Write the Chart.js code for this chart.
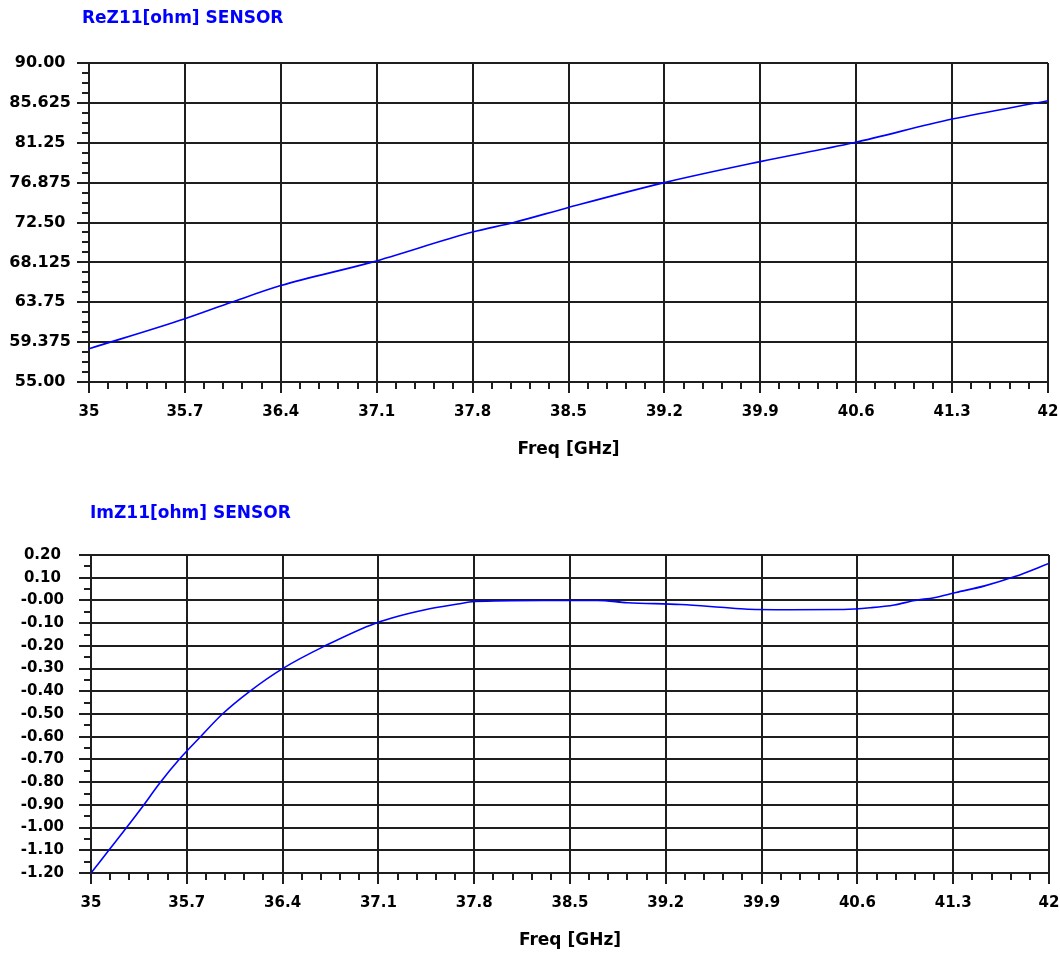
<!DOCTYPE html>
<html lang="en">
<head>
  <meta charset="UTF-8" />
  <title>Z11 sensor</title>
  <style>
    body { margin: 0; background: #fff; }
    #wrap { position: relative; width: 1060px; height: 954px; }
    .box { position: absolute; left: 0; width: 1060px; }
    .ttl { position: absolute; z-index: 2; font: bold 17px "DejaVu Sans", sans-serif; line-height: 20px; color: #0000ff; }
  </style>
</head>
<body>
  <div id="wrap">
    <div class="ttl" style="left:82px;top:7px">ReZ11[ohm] SENSOR</div>
    <div class="box" style="top:0;height:461px"><canvas id="reChart"></canvas></div>
    <div class="ttl" style="left:90px;top:502px">ImZ11[ohm] SENSOR</div>
    <div class="box" style="top:461px;height:493px"><canvas id="imChart"></canvas></div>
  </div>

  <script src="https://cdn.jsdelivr.net/npm/chart.js"></script>
  <script>
// frequency ticks shared by both plots
const freqTicks = [35, 35.7, 36.4, 37.1, 37.8, 38.5, 39.2, 39.9, 40.6, 41.3, 42];
const freqLabels = ['35', '35.7', '36.4', '37.1', '37.8', '38.5', '39.2', '39.9', '40.6', '41.3', '42'];

// ReZ11 [ohm]
const reFreq = [35, 35.7, 36.04, 36.4, 37.06, 37.8, 38.1, 38.5, 39.2, 39.9, 40.58, 41.3, 42];
const reZ11 = [58.65, 61.94, 63.75, 65.58, 68.125, 71.45, 72.5, 74.15, 76.875, 79.18, 81.25, 83.85, 85.86];
const reTicks = [55, 59.375, 63.75, 68.125, 72.5, 76.875, 81.25, 85.625, 90];
const reLabels = ['55.00', '59.375', '63.75', '68.125', '72.50', '76.875', '81.25', '85.625', '90.00'];

// ImZ11 [ohm]
const imFreq = [35, 35.13, 35.26, 35.38, 35.5, 35.65, 35.8, 35.96, 36.16, 36.4, 36.71, 37.08, 37.45, 37.68, 37.8,
  38.3, 38.7, 38.92, 39.31, 39.6, 39.8, 40.1, 40.5, 40.7, 40.87, 41.02, 41.16, 41.32, 41.53, 41.75, 42];
const imZ11 = [-1.2, -1.1, -1.0, -0.905, -0.806, -0.696, -0.6, -0.5, -0.4, -0.3, -0.2, -0.1, -0.04, -0.016, -0.005,
  0.0, 0.0, -0.01, -0.018, -0.03, -0.039, -0.041, -0.04, -0.032, -0.02, 0.0, 0.012, 0.035, 0.064, 0.105, 0.163];
const imTicks = [-1.2, -1.1, -1.0, -0.9, -0.8, -0.7, -0.6, -0.5, -0.4, -0.3, -0.2, -0.1, 0, 0.1, 0.2];
const imLabels = ['-1.20', '-1.10', '-1.00', '-0.90', '-0.80', '-0.70', '-0.60', '-0.50', '-0.40', '-0.30',
  '-0.20', '-0.10', '-0.00', '0.10', '0.20'];

const INK = '#1e1e1e';

// small ticks between the major ones
const minorTicks = {
  id: 'minorTicks',
  afterDraw(chart, args, opts) {
    const {ctx, chartArea, scales: {x, y}} = chart;
    ctx.save();
    ctx.strokeStyle = INK;
    ctx.lineWidth = 2;
    ctx.beginPath();
    const xt = x.ticks.map(t => t.value);
    for (let i = 0; i < xt.length - 1; i++) {
      for (let k = 1; k < opts.xDiv; k++) {
        const px = Math.round(x.getPixelForValue(xt[i] + (xt[i + 1] - xt[i]) * k / opts.xDiv));
        ctx.moveTo(px, chartArea.bottom);
        ctx.lineTo(px, chartArea.bottom + opts.len);
      }
    }
    const yt = y.ticks.map(t => t.value);
    for (let i = 0; i < yt.length - 1; i++) {
      for (let k = 1; k < opts.yDiv; k++) {
        const py = Math.round(y.getPixelForValue(yt[i] + (yt[i + 1] - yt[i]) * k / opts.yDiv));
        ctx.moveTo(chartArea.left - opts.len, py);
        ctx.lineTo(chartArea.left, py);
      }
    }
    ctx.stroke();
    ctx.restore();
  }
};

function makeChart(id, freq, vals, yTicks, yLabels, o) {
  return new Chart(document.getElementById(id), {
    type: 'line',
    data: {
      datasets: [{
        data: freq.map((f, i) => ({x: f, y: vals[i]})),
        borderColor: '#0000ff',
        borderWidth: 1.6,
        pointRadius: 0,
        cubicInterpolationMode: 'monotone',
        fill: false
      }]
    },
    options: {
      responsive: true,
      maintainAspectRatio: false,
      animation: false,
      layout: {padding: {top: o.top, right: o.right, left: 0, bottom: o.bottom}},
      plugins: {
        legend: {display: false},
        tooltip: {enabled: false},
        minorTicks: {xDiv: 5, yDiv: o.yDiv, len: 7}
      },
      scales: {
        x: {
          type: 'linear',
          min: 35,
          max: 42,
          afterBuildTicks: s => { s.ticks = freqTicks.map(v => ({value: v})); },
          afterFit: s => { s.height = 79; s.paddingLeft = 0; s.paddingRight = 0; },
          grid: {color: INK, lineWidth: 2, tickLength: 11, tickColor: INK, tickWidth: 2},
          border: {color: INK, width: 2},
          ticks: {
            color: '#000',
            padding: 10,
            maxRotation: 0,
            autoSkip: false,
            font: {family: 'DejaVu Sans', size: 15, weight: 'bold'},
            callback: (v) => freqLabels[freqTicks.indexOf(v)]
          },
          title: {
            display: true,
            text: 'Freq [GHz]',
            color: '#000',
            padding: {top: 0, bottom: 1},
            font: {family: 'DejaVu Sans', size: 17, weight: 'bold'}
          }
        },
        y: {
          min: yTicks[0],
          max: yTicks[yTicks.length - 1],
          afterBuildTicks: s => { s.ticks = yTicks.map(v => ({value: v})); },
          afterFit: s => { s.width = o.axisW; },
          grid: {color: INK, lineWidth: 2, tickLength: 12, tickColor: INK, tickWidth: 2},
          border: {color: INK, width: 2},
          ticks: {
            color: '#000',
            padding: o.yPad,
            crossAlign: 'center',
            autoSkip: false,
            font: {family: 'DejaVu Sans', size: o.ySize, weight: 'bold'},
            callback: (v, i) => yLabels[i]
          }
        }
      }
    },
    plugins: [minorTicks]
  });
}

makeChart('reChart', reFreq, reZ11, reTicks, reLabels,
  {top: 63, right: 12, bottom: 0, axisW: 89, yDiv: 4, yPad: 6, ySize: 16});
makeChart('imChart', imFreq, imZ11, imTicks, imLabels,
  {top: 94, right: 11, bottom: 2, axisW: 91, yDiv: 2, yPad: 15, ySize: 15});
  </script>
</body>
</html>
